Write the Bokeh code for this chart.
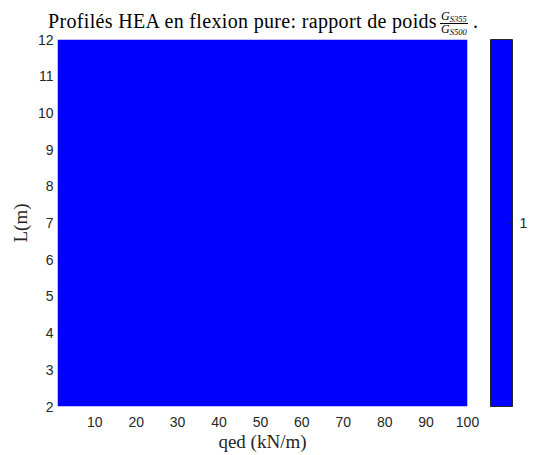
import numpy as np
from bokeh.plotting import figure
from bokeh.layouts import column
from bokeh.models import (LinearColorMapper, ColorBar, FixedTicker, Div, Range1d)
from bokeh.embed import file_html
from bokeh.resources import INLINE

# ---- data ----
qed = [1, 100]             # kN/m
L = [2, 12]                # m
ratio = [[1.0, 1.0],
         [1.0, 1.0]]       # G_S355 / G_S500
x_ticks = [10, 20, 30, 40, 50, 60, 70, 80, 90, 100]
y_ticks = [2, 3, 4, 5, 6, 7, 8, 9, 10, 11, 12]
cbar_ticks = [1]
palette = ["#0000ff"]
title_text = "Profilés HEA en flexion pure: rapport de poids"

TXT = "#262626"
SERIF = "Liberation Serif"
SANS = "Liberation Sans"

p = figure(output_backend="svg", toolbar_location=None,
           frame_width=410, frame_height=367,
           min_border_left=57, min_border_top=10, min_border_bottom=0,
           min_border_right=72,
           x_range=Range1d(qed[0], qed[-1]), y_range=Range1d(L[0], L[-1]))
p.border_fill_color = None

mapper = LinearColorMapper(palette=palette, low=0.5, high=1.5)
p.image(image=[np.array(ratio)], x=qed[0], y=L[0],
        dw=qed[-1] - qed[0], dh=L[-1] - L[0], color_mapper=mapper)

p.grid.visible = False
p.outline_line_color = None
p.background_fill_color = "white"

for ax in (p.xaxis[0], p.yaxis[0]):
    ax.axis_line_color = None
    ax.major_tick_line_color = None
    ax.minor_tick_line_color = None
    ax.major_tick_out = 0
    ax.major_tick_in = 0
    ax.minor_tick_out = 0
    ax.minor_tick_in = 0
    ax.major_label_text_font = SANS
    ax.major_label_text_font_size = "14px"
    ax.major_label_text_color = TXT
    ax.axis_label_text_font = SERIF
    ax.axis_label_text_font_size = "19px"
    ax.axis_label_text_font_style = "normal"
    ax.axis_label_text_color = TXT

p.xaxis.ticker = FixedTicker(ticks=x_ticks)
p.yaxis.ticker = FixedTicker(ticks=y_ticks)
p.xaxis.axis_label = "qed (kN/m)"
p.yaxis.axis_label = "L(m)"
p.xaxis.major_label_standoff = 10
p.xaxis.axis_label_standoff = 1
p.yaxis.major_label_standoff = 4
p.yaxis.axis_label_standoff = 4

cb = ColorBar(color_mapper=mapper, ticker=FixedTicker(ticks=cbar_ticks),
              width=22, margin=0, padding=0, location=(23, 0),
              bar_line_color="#262626", major_tick_line_color="#262626",
              major_tick_in=3, major_tick_out=0,
              major_label_text_font=SANS, major_label_text_font_size="14px",
              major_label_text_color=TXT, label_standoff=7,
              background_fill_color=None, border_line_color=None)
p.add_layout(cb, "right")

FONT = "font-family:Liberation Serif, serif;color:black;"
frac = (
    '<span style="position:absolute;left:440px;top:11px;' + FONT +
    'font-size:12px;line-height:11px;text-align:center;white-space:nowrap;">'
    '<span style="display:block;border-bottom:1px solid black;padding:0 1px;">'
    '<i>G</i><i style="font-size:8.5px;position:relative;top:1.5px;">S355</i></span>'
    '<span style="display:block;padding:0 1px;">'
    '<i>G</i><i style="font-size:8.5px;position:relative;top:1.5px;">S500</i></span></span>'
)
html = (
    '<div style="position:relative;width:530px;height:29px;overflow:visible;">'
    '<span style="position:absolute;left:48px;top:11px;white-space:nowrap;' + FONT +
    'font-size:20px;line-height:20px;letter-spacing:0.33px;">' + title_text + '</span>' + frac +
    '<span style="position:absolute;left:473px;top:11px;' + FONT +
    'font-size:20px;line-height:20px;">.</span>'
    '</div>'
)
title_div = Div(text=html, width=530, height=29, margin=(0, 0, 0, 0),
                styles={"overflow": "visible", "z-index": "1"})

layout = column(title_div, p, spacing=0)
open("out.html", "w").write(file_html(layout, INLINE))
